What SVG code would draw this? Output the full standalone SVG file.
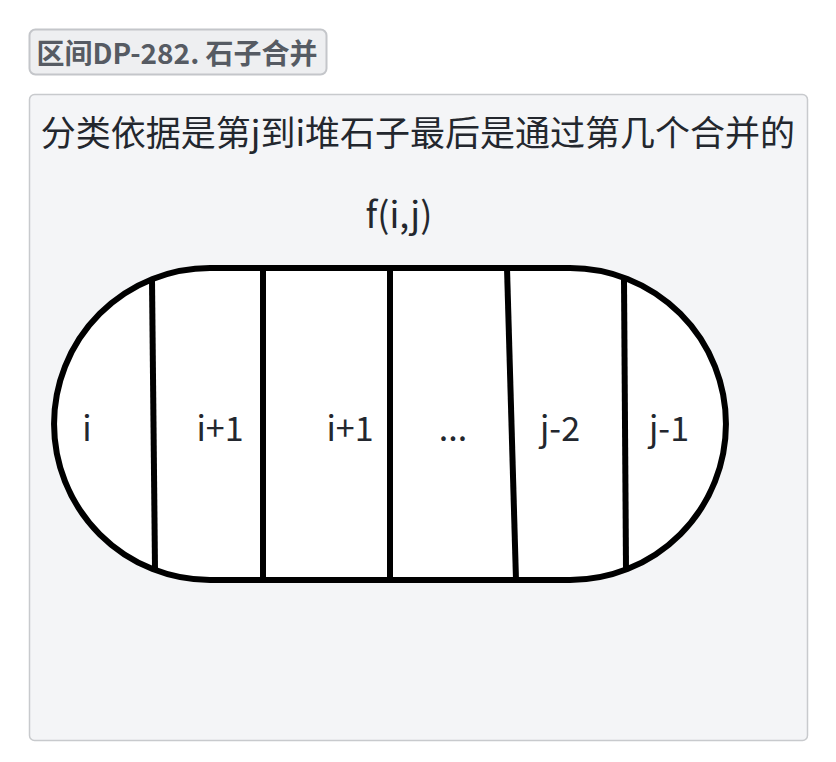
<svg xmlns="http://www.w3.org/2000/svg" width="836" height="762" viewBox="0 0 836 762">
<style>
.t{font-family:"Noto Sans CJK SC","Noto Sans",sans-serif;fill:#23272e;}
.lbl{font-size:34px;text-anchor:middle;}
.div{stroke:#000;stroke-width:6;fill:none;stroke-linecap:butt;}
</style>
<rect width="836" height="762" fill="#ffffff"/>
<g id="tag">
<rect x="29.5" y="29.5" width="297" height="45" rx="6" fill="#eeeff1" stroke="#c4c6ca" stroke-width="2"/>
<text x="177" y="64" class="t" style="font-size:28px;font-weight:bold;fill:#565b63;text-anchor:middle">区间DP-282. 石子合并</text>
</g>
<g id="panel">
<rect x="29.5" y="94.5" width="778" height="646" rx="5" fill="#f4f5f7" stroke="#c8cacd" stroke-width="1.5"/>
<text x="418" y="146" class="t" style="font-size:35px;text-anchor:middle">分类依据是第j到i堆石子最后是通过第几个合并的</text>
<text x="399" y="228" class="t" style="font-size:36px;text-anchor:middle">f(i,j)</text>
</g>
<g id="stadium">
<path d="M210,268 H570 A156,156 0 0 1 570,580 H210 A156,156 0 0 1 210,268 Z" fill="#ffffff" stroke="#000" stroke-width="6"/>
</g>
<g id="dividers">
<line class="div" x1="152" y1="280" x2="155" y2="568"/>
<line class="div" x1="263" y1="268" x2="263" y2="580"/>
<line class="div" x1="390" y1="268" x2="390" y2="580"/>
<line class="div" x1="507" y1="268" x2="516" y2="580"/>
<line class="div" x1="624" y1="280" x2="626" y2="568"/>
</g>
<g id="labels">
<text x="87" y="441" class="t lbl">i</text>
<text x="220" y="441" class="t lbl">i+1</text>
<text x="350" y="441" class="t lbl">i+1</text>
<text x="453" y="441" class="t lbl">...</text>
<text x="560" y="441" class="t lbl">j-2</text>
<text x="669" y="441" class="t lbl">j-1</text>
</g>
</svg>
